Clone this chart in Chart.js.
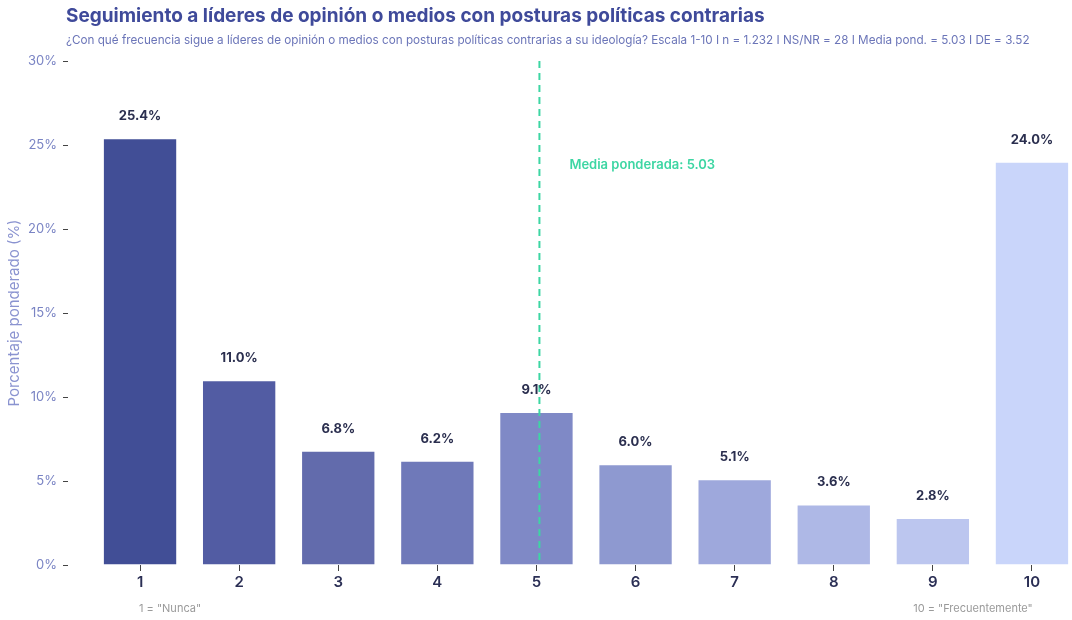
<!DOCTYPE html>
<html>
<head>
<meta charset="utf-8">
<script src="https://cdn.jsdelivr.net/npm/chart.js@4"></script>
<style>
  html, body { margin: 0; padding: 0; background: #ffffff; }
  #wrap { width: 1072px; height: 620px; position: relative; }
</style>
</head>
<body>
<div id="wrap"><canvas id="graficoSeguimiento"></canvas></div>
<script>
// Datos del gráfico
const escala = [1, 2, 3, 4, 5, 6, 7, 8, 9, 10];
const porcentajes = [25.4, 11.0, 6.8, 6.2, 9.1, 6.0, 5.1, 3.6, 2.8, 24.0];
const coloresBarras = ['#414e96', '#525ca3', '#626bac', '#6f79b9', '#7f89c6',
                       '#8e99d0', '#9ea8dc', '#aeb8e6', '#bcc6ef', '#c9d5fa'];
const ticksY = [0, 5, 10, 15, 20, 25, 30];
const mediaPonderada = 5.03;

const titulo = 'Seguimiento a líderes de opinión o medios con posturas políticas contrarias';
const subtitulo = '¿Con qué frecuencia sigue a líderes de opinión o medios con posturas políticas contrarias a su ideología? Escala 1-10 I n = 1.232 I NS/NR = 28 I Media pond. = 5.03 I DE = 3.52';

const FUENTE = 'Inter, "Noto Sans", sans-serif';

// Plugin para textos, etiquetas y línea de la media
const extrasPlugin = {
    id: 'extras',
    afterDatasetsDraw(chart) {
        const ctx = chart.ctx;
        const x = chart.scales.x;
        const y = chart.scales.y;
        const area = chart.chartArea;

        // línea de media ponderada
        const mx = x.getPixelForValue(mediaPonderada);
        ctx.save();
        ctx.strokeStyle = '#3dd6a3';
        ctx.lineWidth = 2;
        ctx.setLineDash([7, 5]);
        ctx.beginPath();
        ctx.moveTo(mx, area.top);
        ctx.lineTo(mx, area.bottom);
        ctx.stroke();
        ctx.setLineDash([]);

        ctx.fillStyle = '#3dd6a3';
        ctx.font = '600 13px ' + FUENTE;
        ctx.textAlign = 'left';
        ctx.textBaseline = 'middle';
        ctx.fillText('Media ponderada: ' + mediaPonderada.toFixed(2), mx + 30, y.getPixelForValue(23.8));

        // etiquetas de valor
        ctx.fillStyle = '#2b2f4f';
        ctx.font = '700 13px ' + FUENTE;
        ctx.textAlign = 'center';
        chart.getDatasetMeta(0).data.forEach((bar, i) => {
            ctx.fillText(porcentajes[i].toFixed(1) + '%', bar.x, bar.y - 22);
        });

        // notas de escala
        ctx.fillStyle = '#9a9a9a';
        ctx.font = '400 11px ' + FUENTE;
        ctx.fillText('1 = "Nunca"', x.getPixelForValue(1) + 30, 609);
        ctx.fillText('10 = "Frecuentemente"', x.getPixelForValue(10) - 59, 609);

        // título y subtítulo
        ctx.textAlign = 'left';
        ctx.fillStyle = '#3f4a9a';
        ctx.font = '700 19px ' + FUENTE;
        ctx.fillText(titulo, 66, 16);
        ctx.fillStyle = '#6b75b8';
        ctx.font = '400 11.7px ' + FUENTE;
        ctx.fillText(subtitulo, 66, 40);
        ctx.restore();
    }
};

const ctx = document.getElementById('graficoSeguimiento').getContext('2d');
const chart = new Chart(ctx, {
    type: 'bar',
    data: {
        datasets: [{
            data: escala.map((v, i) => ({ x: v, y: porcentajes[i] })),
            backgroundColor: coloresBarras,
            borderColor: 'rgba(255,255,255,0.35)',
            borderWidth: 1,
            barPercentage: 0.75,
            categoryPercentage: 1
        }]
    },
    options: {
        responsive: true,
        maintainAspectRatio: false,
        animation: false,
        layout: {
            padding: { top: 61, right: 0, bottom: 0, left: 0 }
        },
        scales: {
            x: {
                type: 'linear',
                offset: false,
                min: 0.273,
                max: 10.404,
                afterBuildTicks: (scale) => {
                    scale.ticks = escala.map(v => ({ value: v }));
                },
                afterFit: (scale) => { scale.height = 55; },
                grid: {
                    display: true,
                    offset: false,
                    drawOnChartArea: false,
                    tickLength: 6,
                    color: '#444444'
                },
                border: { display: false },
                ticks: {
                    color: '#2b2f55',
                    font: { family: FUENTE, size: 15, weight: '600' },
                    padding: 2,
                    callback: (v) => v
                }
            },
            y: {
                min: 0,
                max: 30,
                afterBuildTicks: (scale) => {
                    scale.ticks = ticksY.map(v => ({ value: v }));
                },
                afterFit: (scale) => { scale.width = 68; },
                grid: {
                    display: true,
                    drawOnChartArea: false,
                    tickLength: 5,
                    color: '#444444'
                },
                border: { display: false },
                ticks: {
                    color: '#7a84c4',
                    font: { family: FUENTE, size: 13 },
                    padding: 6,
                    callback: (v) => v + '%'
                },
                title: {
                    display: true,
                    text: 'Porcentaje ponderado (%)',
                    color: '#8a93d0',
                    font: { family: FUENTE, size: 15 },
                    padding: { top: 5, bottom: 0 }
                }
            }
        },
        plugins: {
            legend: { display: false },
            tooltip: { enabled: false }
        }
    },
    plugins: [extrasPlugin]
});
</script>
</body>
</html>
